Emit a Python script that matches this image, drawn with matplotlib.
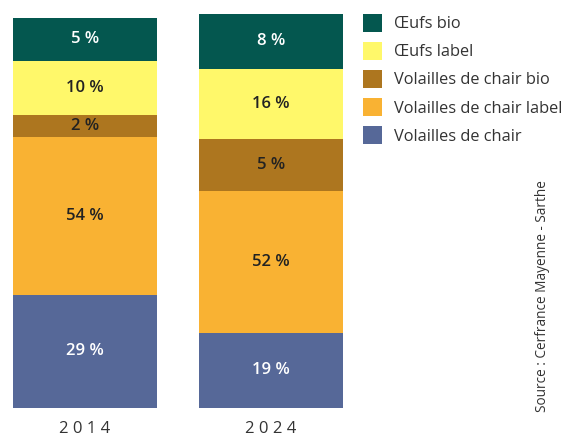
import matplotlib
matplotlib.use("Agg")
import matplotlib.pyplot as plt
from matplotlib.patches import Patch

plt.rcParams['font.family'] = ['Open Sans', 'DejaVu Sans']

years = ['2014', '2024']
categories = ['Volailles de chair', 'Volailles de chair label', 'Volailles de chair bio',
              'Œufs label', 'Œufs bio']
colors = ['#566898', '#F9B233', '#AD761F', '#FFF86A', '#04574F']
text_colors = ['white', '#222222', '#222222', '#222222', 'white']

# percentages as labelled
pct_2014 = [29, 54, 2, 10, 5]
pct_2024 = [19, 52, 5, 16, 8]
# drawn segment heights as they appear in the picture (not proportional to labels)
height_2014 = [113, 158, 22, 54, 43]
height_2024 = [75, 142, 52, 70, 55]

W, H = 565, 436
fig = plt.figure(figsize=(W / 100, H / 100), dpi=100)
ax = fig.add_axes([1.3 / W, (H - 407.5) / H, 353.4 / W, 394 / H])

x = [0, 1]
heights = [height_2014, height_2024]
pcts = [pct_2014, pct_2024]
bottoms = [0, 0]
for i, cat in enumerate(categories):
    vals = [heights[0][i], heights[1][i]]
    ax.bar(x, vals, bottom=bottoms, width=0.774, color=colors[i], linewidth=0)
    for j in range(2):
        ax.text(x[j], bottoms[j] + vals[j] / 2, f'{pcts[j][i]} %', ha='center', va='center',
                fontsize=12, fontweight='semibold', color=text_colors[i])
    bottoms = [bottoms[0] + vals[0], bottoms[1] + vals[1]]

ax.set_xlim(-0.45, 1.45)
ax.set_ylim(0, 394)
ax.axis('off')

for j, yr in enumerate(years):
    ax.text(x[j], -21, ' '.join(yr), ha='center', va='center', fontsize=12,
            color='#333333', clip_on=False)

handles = [Patch(facecolor=colors[i], edgecolor='none', label=categories[i])
           for i in range(len(categories) - 1, -1, -1)]
fig.legend(handles=handles, loc='upper left', bbox_to_anchor=(363 / W, 1 - 14 / H),
           frameon=False, fontsize=11.8, handlelength=1.16, handleheight=1.27,
           handletextpad=0.76, labelspacing=0.6, borderpad=0, borderaxespad=0,
           labelcolor='#333333')

fig.text(543 / W, 1 - 296 / H, 'Source : Cerfrance Mayenne - Sarthe', rotation=90,
         ha='center', va='center', fontsize=9.8, color='#333333')

fig.savefig('out.png', dpi=100)
